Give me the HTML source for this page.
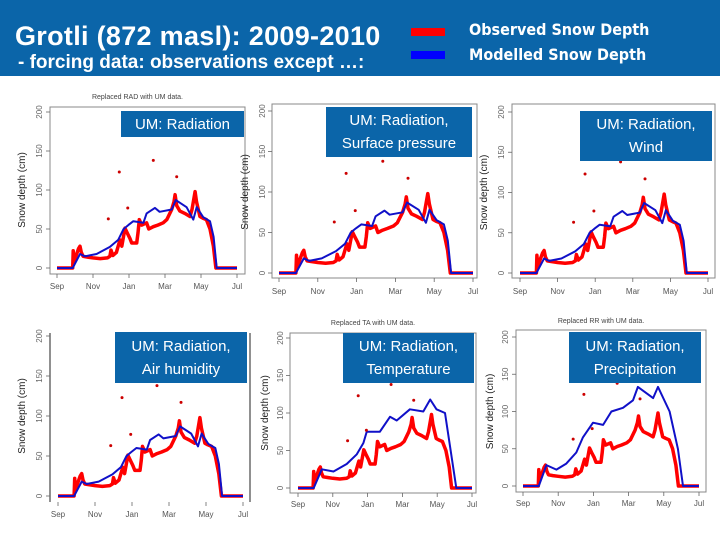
<!DOCTYPE html>
<html><head><meta charset="utf-8">
<style>
html,body{margin:0;padding:0;background:#fff;}
#slide{position:relative;width:720px;height:540px;overflow:hidden;background:#fff;font-family:"Liberation Sans",sans-serif;}
#header{position:absolute;left:0;top:0;width:720px;height:76px;background:#0b65a9;}
.t1{position:absolute;left:15px;top:21px;color:#fff;font-size:27px;letter-spacing:0.3px;font-weight:bold;white-space:nowrap;}
.t2{position:absolute;left:18px;top:52px;color:#fff;font-size:19px;font-weight:bold;white-space:nowrap;}
.lg{position:absolute;left:469px;color:#fff;font-family:"DejaVu Sans Condensed","DejaVu Sans",sans-serif;font-weight:bold;font-size:16px;white-space:nowrap;}
.sw{position:absolute;left:411px;width:34px;height:8px;}
.box{position:absolute;background:#0b65a9;color:#fff;font-size:15px;text-align:center;line-height:23px;display:flex;align-items:center;justify-content:center;}
svg{position:absolute;left:0;top:0;}
</style></head><body>
<div id="slide">
<div id="header">
  <div class="t1">Grotli (872 masl): 2009-2010</div>
  <div class="t2">- forcing data: observations except …:</div>
  <div class="sw" style="top:28px;background:#f00"></div>
  <div class="sw" style="top:51px;background:#00f"></div>
  <div class="lg" style="top:20px">Observed Snow Depth</div>
  <div class="lg" style="top:45px">Modelled Snow Depth</div>
</div>
<svg id="charts" width="720" height="540"></svg>
<div class="box" style="left:121px;top:111px;width:123px;height:26px">UM: Radiation</div>
<div class="box" style="left:326px;top:107px;width:146px;height:50px">UM: Radiation,<br>Surface pressure</div>
<div class="box" style="left:580px;top:111px;width:132px;height:50px">UM: Radiation,<br>Wind</div>
<div class="box" style="left:115px;top:332px;width:132px;height:51px">UM: Radiation,<br>Air humidity</div>
<div class="box" style="left:343px;top:333px;width:131px;height:50px">UM: Radiation,<br>Temperature</div>
<div class="box" style="left:569px;top:332px;width:132px;height:51px">UM: Radiation,<br>Precipitation</div>
</div>
<script>
// Months since 1 Sep (Nov=2, Jan=4 ...), snow depth in cm
const obsMonths = [0,0.87,0.9,0.95,1.05,1.2,1.28,1.35,1.45,1.7,2.0,2.4,2.8,2.94,3.0,3.1,3.3,3.5,3.6,3.78,3.9,4.05,4.15,4.43,4.5,4.57,4.7,4.98,5.1,5.35,5.6,5.9,6.1,6.37,6.5,6.56,6.65,6.83,7.1,7.39,7.5,7.67,7.75,7.94,8.1,8.3,8.5,8.69,8.83,10];
const obsDepth  = [0,0,22,8,15,25,28,20,15,14,13,12,13,15,23,16,20,36,28,51,45,38,32,32,45,62,55,58,50,53,55,58,62,75,85,94,80,73,70,66,75,98,85,66,64,62,50,28,0,0];
const modelMonths = [0,0.87,1.28,1.55,2.2,2.94,3.4,3.7,3.96,4.24,4.8,4.98,5.44,5.7,6.37,6.6,7.2,7.57,7.76,8.13,8.5,8.7,8.87,10];
const modelDepth  = [0,0,18,15,18,27,36,50,55,60,58,70,77,72,75,87,78,62,78,65,60,40,0,0];
const tempMonths = [0,0.9,1.37,2.04,2.8,3.38,3.76,3.95,4.7,5.29,5.67,6.43,7.2,7.6,7.96,8.45,9.1,10];
const tempDepth  = [0,0,25,22,32,45,60,75,75,95,90,105,102,118,105,100,0,0];
const precipMonths = [0,0.9,1.33,1.9,2.46,3.03,3.4,3.98,4.55,5.02,5.68,6.25,6.53,7.39,7.67,8.33,8.8,9.09,10];
const precipDepth  = [0,0,28,22,30,45,65,85,82,100,105,115,133,118,133,100,50,0,0];
const outlierMonths = [2.85,3.46,3.93,5.35,6.65];
const outlierDepth  = [63,123,77,138,117];
const monthLabels = ["Sep","Nov","Jan","Mar","May","Jul"];
const monthTicks = [0,2,4,6,8,10];
const yTicks = [0,50,100,150,200];

const NS="http://www.w3.org/2000/svg";
const svg=document.getElementById('charts');
function mk(tag,attrs,parent){const e=document.createElementNS(NS,tag);for(const k in attrs)e.setAttribute(k,attrs[k]);(parent||svg).appendChild(e);return e;}

const charts=[
 {id:'radiation',L:50,R:245,T:107,B:274,x0:57,x1:237,y0:268,y200:112,lab:289,yl:25,yt:42,title:'Replaced RAD with UM data.',tY:99,model:'A'},
 {id:'pressure',L:272,R:477,T:104,B:278,x0:279,x1:473,y0:273,y200:111,lab:294,yl:248,yt:265,title:'',model:'A'},
 {id:'wind',L:512,R:715,T:104,B:278,x0:520,x1:708,y0:273,y200:112,lab:294,yl:487,yt:504,title:'',model:'A'},
 {id:'humidity',L:50,R:250,T:333,B:502,x0:58,x1:243,y0:496,y200:336,lab:517,yl:25,yt:42,title:'',model:'A',noTop:true},
 {id:'temperature',L:290,R:476,T:333,B:493,x0:298,x1:472,y0:488,y200:338,lab:507,yl:268,yt:283,title:'Replaced TA with UM data.',tY:325,model:'T'},
 {id:'precipitation',L:516,R:706,T:330,B:492,x0:523,x1:699,y0:486,y200:337,lab:506,yl:493,yt:508,title:'Replaced RR with UM data.',tY:323,model:'P'}
];

charts.forEach(c=>{
  const g=mk('g',{});
  
  
  const xs=m=>c.x0+(c.x1-c.x0)*m/10;
  const ys=v=>c.y0+(c.y200-c.y0)*v/200;
  const fr=mk('path',{d:c.noTop?`M${c.L},${c.T} V${c.B} M${c.R},${c.T} V${c.B}`:`M${c.L},${c.T} H${c.R} V${c.B} H${c.L} Z`,fill:'none',stroke:c.noTop?'#222':'#888','stroke-width':1},g);
  
  
  if(c.title){
    const t=mk('text',{x:(c.L+c.R)/2-10,y:c.tY,'font-size':7,fill:'#444','text-anchor':'middle','font-family':'Liberation Sans Narrow, Liberation Sans, sans-serif'},g);
    t.textContent=c.title;
    
    
  }
  yTicks.forEach(v=>{
    mk('line',{x1:c.L-4,x2:c.L,y1:ys(v),y2:ys(v),stroke:'#666','stroke-width':0.8},g);
    const t=mk('text',{x:c.yt,y:ys(v),'font-size':8,fill:'#666','text-anchor':'middle',transform:`rotate(-90 ${c.yt} ${ys(v)})`},g);
    t.textContent=v;
    
    
  });
  const yl=mk('text',{x:c.yl,y:(c.y0+c.y200)/2,'font-size':10,fill:'#222','text-anchor':'middle',transform:`rotate(-90 ${c.yl} ${(c.y0+c.y200)/2})`},g);
  yl.textContent='Snow depth (cm)';
  
  
  monthTicks.forEach((m,i)=>{
    mk('line',{x1:xs(m),x2:xs(m),y1:c.B,y2:c.B+4,stroke:'#666','stroke-width':0.8},g);
    const t=mk('text',{x:xs(m),y:c.lab,'font-size':8,fill:'#555','text-anchor':'middle'},g);
    t.textContent=monthLabels[i];
    
    
  });
  const pts=(ms,vs)=>ms.map((m,i)=>xs(m).toFixed(1)+','+ys(vs[i]).toFixed(1)).join(' ');
  const red=mk('polyline',{points:pts(obsMonths,obsDepth),fill:'none',stroke:'#f00','stroke-width':3.5,'stroke-linejoin':'round'},g);
  
  
  let mm=modelMonths,md=modelDepth;
  if(c.model==='T'){mm=tempMonths;md=tempDepth;}
  if(c.model==='P'){mm=precipMonths;md=precipDepth;}
  const blue=mk('polyline',{points:pts(mm,md),fill:'none',stroke:'#1010c8','stroke-width':2,'stroke-linejoin':'round'},g);
  
  
  outlierMonths.forEach((m,i)=>{
    const d=mk('circle',{cx:xs(m),cy:ys(outlierDepth[i]),r:1.5,fill:'#c00'},g);
    
    
  });
});
</script>
</body></html>
